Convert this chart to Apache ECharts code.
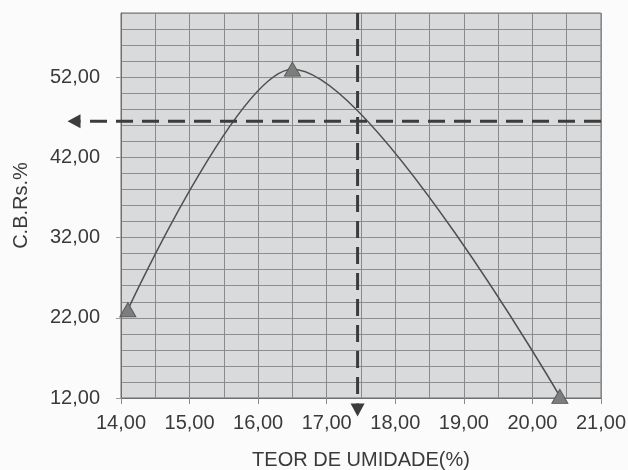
<!DOCTYPE html>
<html>
<head>
<meta charset="utf-8">
<script src="https://cdn.jsdelivr.net/npm/echarts@6/dist/echarts.min.js"></script>
<style>
html,body{margin:0;padding:0;background:#fbfbfb;}
#c{width:628px;height:470px;}
</style>
</head>
<body>
<div id="c"></div>
<script>
// Data
var moisture = [14.1, 16.5, 20.4];          // TEOR DE UMIDADE (%)
var cbr = [23.0, 53.0, 12.2];               // C.B.Rs. %
var readMoisture = 17.45;                   // vertical dashed reading
var readCbr = 46.5;                         // horizontal dashed reading
var xTickLabels = [14, 15, 16, 17, 18, 19, 20, 21];
var yTickLabels = [12, 22, 32, 42, 52];
var xAxisMin = 14, xAxisMax = 21;
var yAxisMin = 12, yAxisMax = 60;
var hArrowX = 13.22;                        // arrow tip left of axis
var vArrowY = 9.7;                          // arrow tip below axis

function fmt(v){ return Number(v).toFixed(2).replace('.', ','); }

var curve = moisture.map(function(x, i){ return [x, cbr[i]]; });
// guide lines: [tipX, tipY, endX, endY]
var guides = [
  [hArrowX, readCbr, xAxisMax, readCbr],
  [readMoisture, vArrowY, readMoisture, yAxisMax]
];

var chart = echarts.init(document.getElementById('c'), null, {renderer:'canvas'});
var font = 'Liberation Sans, Arial, sans-serif';
var txt = '#3a3a3a';
chart.setOption({
  backgroundColor: '#fbfbfb',
  animation: false,
  grid: {
    left: 121, right: 27, top: 13, bottom: 72,
    containLabel: false, outerBoundsMode: 'none',
    show: true, backgroundColor: '#d9dadb', borderColor: '#6f6f6f', borderWidth: 1
  },
  xAxis: [
    {
      type: 'value', min: xAxisMin, max: xAxisMax, interval: 0.5,
      axisLine: {show: true, lineStyle: {color: '#6f6f6f'}},
      axisTick: {show: false}, axisLabel: {show: false},
      splitLine: {show: true, lineStyle: {color: '#8a8a8a', width: 1}}
    },
    {
      type: 'value', min: xAxisMin, max: xAxisMax, interval: 1, position: 'bottom',
      name: 'TEOR DE UMIDADE(%)', nameLocation: 'middle', nameGap: 52,
      nameTextStyle: {fontFamily: font, fontSize: 20, color: txt},
      axisLine: {show: false},
      axisTick: {show: true, length: 6, lineStyle: {color: '#8a8a8a'}, customValues: xTickLabels},
      axisLabel: {margin: 15, fontFamily: font, fontSize: 20, color: txt, customValues: xTickLabels, formatter: fmt},
      splitLine: {show: false}
    }
  ],
  yAxis: [
    {
      type: 'value', min: yAxisMin, max: yAxisMax, interval: 2,
      axisLine: {show: true, lineStyle: {color: '#6f6f6f'}},
      axisTick: {show: false}, axisLabel: {show: false},
      splitLine: {show: true, lineStyle: {color: '#8e8e8e', width: 1}}
    },
    {
      type: 'value', min: yAxisMin, max: yAxisMax, interval: 10, position: 'left',
      name: 'C.B.Rs.%', nameLocation: 'middle', nameGap: 90, nameRotate: 90,
      nameTextStyle: {fontFamily: font, fontSize: 20, color: txt},
      axisLine: {show: false},
      axisTick: {show: true, length: 5, lineStyle: {color: '#9a9a9a'}, customValues: yTickLabels},
      axisLabel: {
        margin: 21, fontFamily: font, fontSize: 20, color: txt, customValues: yTickLabels,
        formatter: function(v){ return v < yAxisMax ? fmt(v) : ''; }
      },
      splitLine: {show: false}
    }
  ],
  series: [
    {
      type: 'line', data: curve, smooth: 0.3,
      symbol: 'triangle', symbolSize: [16, 14],
      itemStyle: {color: '#7d7d7d', borderColor: '#5a5a5a', borderWidth: 1},
      lineStyle: {color: '#505050', width: 1.5},
      z: 3
    },
    {
      type: 'custom', clip: false, silent: true, z: 4,
      data: guides,
      encode: {x: [0, 2], y: [1, 3]},
      renderItem: function(params, api){
        var p0 = api.coord([api.value(0), api.value(1)]);
        var p1 = api.coord([api.value(2), api.value(3)]);
        var dx = p1[0] - p0[0], dy = p1[1] - p0[1];
        var len = Math.sqrt(dx * dx + dy * dy), ux = dx / len, uy = dy / len;
        var L = 13, W = 7;
        var bx = p0[0] + ux * L, by = p0[1] + uy * L;
        return {
          type: 'group',
          children: [
            {type: 'line', shape: {x1: p1[0], y1: p1[1], x2: bx, y2: by},
             style: {stroke: '#3c3c3c', lineWidth: 3, lineDash: [17, 9]}},
            {type: 'polygon', shape: {points: [[p0[0], p0[1]], [bx - uy * W, by + ux * W], [bx + uy * W, by - ux * W]]},
             style: {fill: '#3c3c3c'}}
          ]
        };
      }
    }
  ]
});
</script>
</body>
</html>
